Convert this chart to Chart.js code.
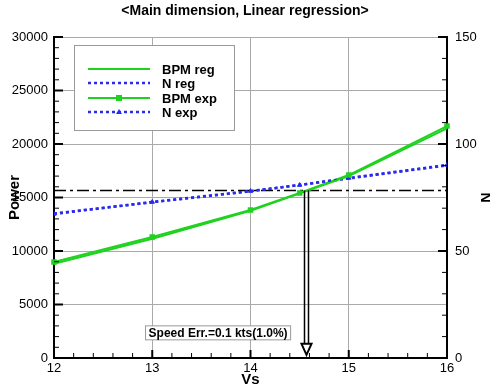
<!DOCTYPE html>
<html>
<head>
<meta charset="utf-8">
<script src="https://cdn.jsdelivr.net/npm/chart.js@4.4.0/dist/chart.umd.min.js"></script>
<style>
  html, body { margin: 0; padding: 0; background: #fff; }
  #wrap { width: 490px; height: 389px; }
</style>
</head>
<body>
<div id="wrap"><canvas id="power-chart"></canvas></div>
<script>
// values
const regSpeeds = [12, 13, 14, 15, 16];
const bpmReg = [8800, 11150, 13750, 17000, 21450];
const nReg = [67.5, 72.8, 77.9, 83.9, 90.0];

const expSpeeds = [12, 13, 14, 14.5, 15, 16];
const bpmExp = [8970, 11310, 13830, 15420, 17100, 21680];
const nExp = [67.3, 72.9, 78.0, 80.8, 84.1, 90.2];

const refPower = 15650;   // dash-dot line
const refSpeed = 14.57;   // arrow down to the speed axis
const errText = 'Speed Err.=0.1 kts(1.0%)';
const errSpeed = 13.67;
const errPower = 2350;

const speedTicks = [12, 13, 14, 15, 16];
const powerTicks = [0, 5000, 10000, 15000, 20000, 25000, 30000];
const nTicks = [0, 50, 100, 150];

const FONT = "'Liberation Sans', Arial, Helvetica, sans-serif";
const GREEN = '#1fd21f';
const BLUE = '#2a2af0';

const pts = (xs, ys) => xs.map((x, i) => ({ x, y: ys[i] }));

// ticks drawn inward, like the original plot
const innerTicks = {
  id: 'innerTicks',
  afterDraw(chart) {
    const { ctx, chartArea: a, scales } = chart;
    ctx.save();
    ctx.strokeStyle = '#000';
    const line = (x0, y0, x1, y1, w) => {
      ctx.lineWidth = w;
      ctx.beginPath();
      ctx.moveTo(x0, y0);
      ctx.lineTo(x1, y1);
      ctx.stroke();
    };
    // speed axis, minor every 0.2
    for (let i = 0; i <= 20; i++) {
      const v = 12 + i * 0.2;
      const px = scales.x.getPixelForValue(v);
      const major = i % 5 === 0;
      line(px, a.bottom, px, a.bottom - (major ? 8 : 5), major ? 2 : 1);
    }
    // power axis, minor every 1000
    for (let i = 0; i <= 30; i++) {
      const py = scales.y.getPixelForValue(i * 1000);
      const major = i % 5 === 0;
      line(a.left, py, a.left + (major ? 9 : 5), py, major ? 2 : 1);
    }
    // N axis, minor every 10
    for (let i = 0; i <= 15; i++) {
      const py = scales.y1.getPixelForValue(i * 10);
      const major = i % 5 === 0;
      line(a.right, py, a.right - (major ? 9 : 5), py, major ? 2 : 1);
    }
    ctx.restore();
  }
};

// arrow, error label and legend box
const extras = {
  id: 'extras',
  afterDatasetsDraw(chart) {
    const { ctx, scales: { x, y } } = chart;
    ctx.save();

    // double-line arrow from the crossing down to the axis
    const ax = x.getPixelForValue(refSpeed);
    const top = y.getPixelForValue(refPower);
    const tip = y.getPixelForValue(300);
    ctx.strokeStyle = '#000';
    ctx.lineWidth = 1.5;
    ctx.beginPath();
    ctx.moveTo(ax - 2, top); ctx.lineTo(ax - 2, tip - 11);
    ctx.moveTo(ax + 2, top); ctx.lineTo(ax + 2, tip - 11);
    ctx.stroke();
    ctx.lineWidth = 2;
    ctx.fillStyle = '#fff';
    ctx.beginPath();
    ctx.moveTo(ax - 5, tip - 11);
    ctx.lineTo(ax + 5, tip - 11);
    ctx.lineTo(ax, tip);
    ctx.closePath();
    ctx.fill();
    ctx.stroke();

    // error label
    ctx.font = 'bold 12px ' + FONT;
    const tw = ctx.measureText(errText).width;
    const lx = x.getPixelForValue(errSpeed);
    const ly = y.getPixelForValue(errPower);
    ctx.fillStyle = '#fff';
    ctx.fillRect(lx - tw / 2 - 3, ly - 7, tw + 6, 14);
    ctx.strokeStyle = '#999';
    ctx.lineWidth = 1;
    ctx.strokeRect(lx - tw / 2 - 3, ly - 7, tw + 6, 14);
    ctx.fillStyle = '#000';
    ctx.textAlign = 'center';
    ctx.textBaseline = 'middle';
    ctx.fillText(errText, lx, ly + 1);

    // legend
    const bx = 74, by = 45, bw = 160, bh = 85;
    ctx.fillStyle = '#fff';
    ctx.fillRect(bx, by, bw, bh);
    ctx.strokeStyle = '#999';
    ctx.strokeRect(bx + 0.5, by + 0.5, bw, bh);
    const rows = [69, 83, 98, 112];
    chart.data.datasets.slice(0, 4).forEach((ds, i) => {
      const ry = rows[i];
      ctx.strokeStyle = ds.borderColor;
      ctx.lineWidth = ds.borderWidth;
      ctx.setLineDash(ds.borderDash || []);
      ctx.beginPath();
      ctx.moveTo(88, ry);
      ctx.lineTo(150, ry);
      ctx.stroke();
      ctx.setLineDash([]);
      if (ds.pointRadius > 0) {
        ctx.fillStyle = ds.borderColor;
        ctx.beginPath();
        if (ds.pointStyle === 'rect') {
          ctx.rect(116, ry - 3, 6, 6);
        } else {
          ctx.moveTo(119, ry - 3);
          ctx.lineTo(122, ry + 2);
          ctx.lineTo(116, ry + 2);
          ctx.closePath();
        }
        ctx.fill();
      }
      ctx.fillStyle = '#000';
      ctx.font = 'bold 13px ' + FONT;
      ctx.textAlign = 'left';
      ctx.textBaseline = 'middle';
      ctx.fillText(ds.label, 162, ry + 1);
    });
    ctx.restore();
  }
};

const ctx = document.getElementById('power-chart').getContext('2d');
const powerChart = new Chart(ctx, {
  type: 'line',
  data: {
    datasets: [{
      label: 'BPM reg',
      data: pts(regSpeeds, bpmReg),
      yAxisID: 'y',
      borderColor: GREEN,
      borderWidth: 2,
      pointRadius: 0
    }, {
      label: 'N reg',
      data: pts(regSpeeds, nReg),
      yAxisID: 'y1',
      borderColor: BLUE,
      borderWidth: 2.5,
      borderDash: [3, 3],
      pointRadius: 0
    }, {
      label: 'BPM exp',
      data: pts(expSpeeds, bpmExp),
      yAxisID: 'y',
      borderColor: GREEN,
      backgroundColor: GREEN,
      borderWidth: 2,
      pointStyle: 'rect',
      pointRadius: 2.5,
      clip: false
    }, {
      label: 'N exp',
      data: pts(expSpeeds, nExp),
      yAxisID: 'y1',
      borderColor: BLUE,
      backgroundColor: BLUE,
      borderWidth: 2.5,
      borderDash: [3, 3],
      pointStyle: 'triangle',
      pointRadius: 2.5,
      pointBorderWidth: 1
    }, {
      label: 'ref',
      data: pts([12, 16], [refPower, refPower]),
      yAxisID: 'y',
      borderColor: '#000',
      borderWidth: 1.5,
      borderDash: [12, 4, 3, 4],
      pointRadius: 0
    }]
  },
  options: {
    responsive: true,
    maintainAspectRatio: false,
    animation: false,
    layout: { padding: 0 },
    plugins: {
      legend: { display: false },
      tooltip: { enabled: false },
      title: {
        display: true,
        text: '<Main dimension, Linear regression>',
        color: '#000',
        font: { family: FONT, size: 14, weight: 'bold' },
        padding: { top: 3, bottom: 17.2 }
      }
    },
    scales: {
      x: {
        type: 'linear',
        min: 12,
        max: 16,
        afterBuildTicks: (s) => { s.ticks = speedTicks.map(v => ({ value: v })); },
        afterFit: (s) => { s.height = 31; },
        ticks: { color: '#000', padding: 3, font: { family: FONT, size: 13 }, callback: (v) => String(v) },
        grid: { color: '#aaa', lineWidth: 1, drawTicks: false },
        border: { color: '#000', width: 2 },
        title: { display: true, text: 'Vs', color: '#000', padding: { top: 0, bottom: 0 }, font: { family: FONT, size: 15, weight: 'bold' } }
      },
      y: {
        type: 'linear',
        position: 'left',
        min: 0,
        max: 30000,
        afterBuildTicks: (s) => { s.ticks = powerTicks.map(v => ({ value: v })); },
        afterFit: (s) => { s.width = 54; },
        ticks: { color: '#000', padding: 6, font: { family: FONT, size: 13 }, callback: (v) => String(v) },
        grid: { color: '#aaa', lineWidth: 1, drawTicks: false },
        border: { color: '#000', width: 2 },
        title: { display: true, text: 'Power', color: '#000', padding: { top: 6, bottom: 0 }, font: { family: FONT, size: 15, weight: 'bold' } }
      },
      y1: {
        type: 'linear',
        position: 'right',
        min: 0,
        max: 150,
        afterBuildTicks: (s) => { s.ticks = nTicks.map(v => ({ value: v })); },
        afterFit: (s) => { s.width = 43; },
        ticks: { color: '#000', padding: 8, font: { family: FONT, size: 13 }, callback: (v) => String(v) },
        grid: { display: false, drawTicks: false },
        border: { color: '#000', width: 2 },
        title: { display: true, text: 'N', color: '#000', padding: { top: -3, bottom: 0 }, font: { family: FONT, size: 14, weight: 'bold' } }
      }
    }
  },
  plugins: [innerTicks, extras]
});
</script>
</body>
</html>
